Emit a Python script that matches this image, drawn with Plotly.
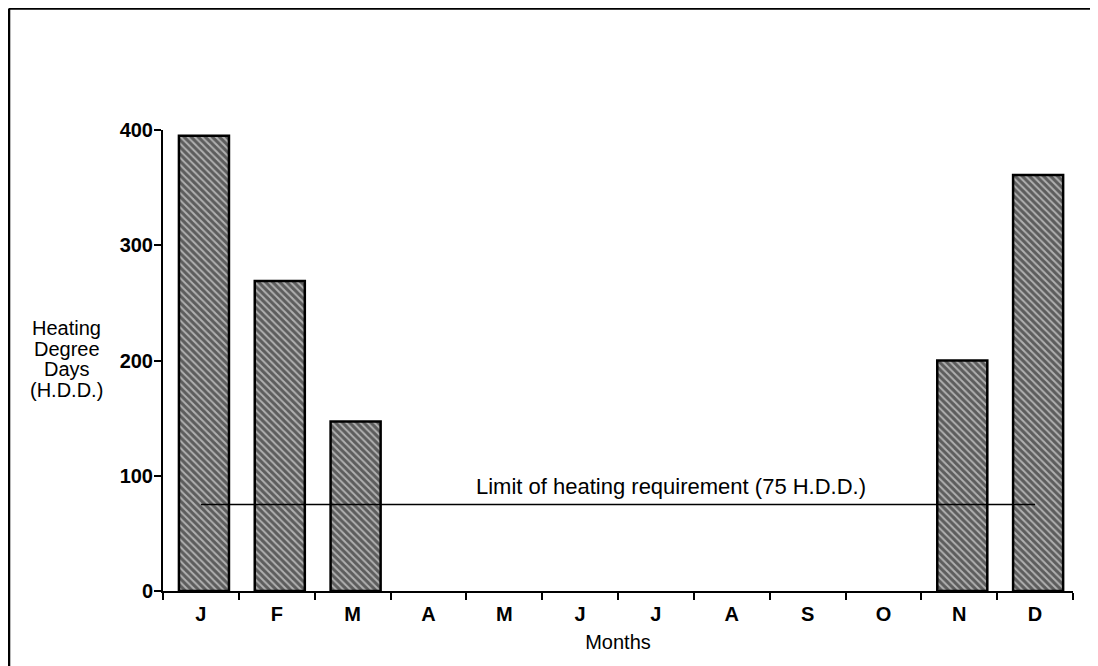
import plotly.graph_objects as go

# Monthly heating degree days
months = ["J", "F", "M", "A", "M", "J", "J", "A", "S", "O", "N", "D"]
hdd = [395, 269, 147, 0, 0, 0, 0, 0, 0, 0, 200, 361]
limit_hdd = 75
limit_label = "Limit of heating requirement (75 H.D.D.)"
y_title_lines = ["Heating", "Degree", "Days", "(H.D.D.)"]
y_ticks = [0, 100, 200, 300, 400]

month_idx = list(range(len(months)))
font = "Liberation Sans, Arial, sans-serif"

fig = go.Figure()

# empty months get no outline so nothing shows on the axis
outline = [2.5 if v > 0 else 0 for v in hdd]

fig.add_trace(
    go.Bar(
        x=month_idx,
        y=hdd,
        width=0.66,
        offset=-0.29,
        marker=dict(
            color="#b0b0b0",
            line=dict(color="black", width=outline),
            pattern=dict(shape="\\", fgcolor="#0a0a0a", size=5, solidity=0.6),
        ),
        showlegend=False,
    )
)

# limit line across the year
fig.add_trace(
    go.Scatter(
        x=[month_idx[0], month_idx[-1]],
        y=[limit_hdd, limit_hdd],
        mode="lines",
        line=dict(color="black", width=1.5),
        showlegend=False,
        hoverinfo="skip",
    )
)

fig.add_annotation(
    x=(month_idx[0] + month_idx[-1]) / 2 + 0.7,
    y=limit_hdd,
    text=limit_label,
    showarrow=False,
    yanchor="bottom",
    yshift=4,
    font=dict(family=font, size=22, color="black"),
)

# y axis title, one annotation per line to get the tight spacing
for i, line in enumerate(y_title_lines):
    fig.add_annotation(
        x=-0.1055,
        y=0.5705 - i * 0.0445,
        xref="paper",
        yref="paper",
        xanchor="center",
        text=line,
        showarrow=False,
        font=dict(family=font, size=20, color="black"),
    )

# frame of the scanned page (left and top edges)
fig.add_shape(type="line", xref="paper", yref="paper",
              x0=-0.1692, x1=-0.1692, y0=1.2636, y1=-0.17,
              line=dict(color="black", width=2.5))
fig.add_shape(type="line", xref="paper", yref="paper",
              x0=-0.1692, x1=1.03, y0=1.2636, y1=1.2636,
              line=dict(color="black", width=2.5))

fig.update_xaxes(
    range=[-0.5, len(months) - 0.5],
    tickvals=month_idx,
    ticktext=months,
    ticks="outside",
    ticklen=4,
    tickcolor="rgba(0,0,0,0)",
    ticklabelstandoff=0,
    tickfont=dict(family=font, size=20, color="black", weight="bold"),
    showline=True,
    linecolor="black",
    linewidth=2,
    showgrid=False,
    zeroline=False,
    minor=dict(
        tickvals=[i - 0.5 for i in range(len(months) + 1)],
        ticks="outside",
        ticklen=7,
        tickwidth=2,
        tickcolor="black",
        showgrid=False,
    ),
    title=dict(text="Months", font=dict(family=font, size=20, color="black"), standoff=11),
)

fig.update_yaxes(
    range=[0, 400],
    tickvals=y_ticks,
    ticks="outside",
    ticklen=7,
    tickwidth=2,
    tickcolor="black",
    ticklabelstandoff=-3,
    tickfont=dict(family=font, size=20, color="black", weight="bold"),
    showline=True,
    linecolor="black",
    linewidth=2,
    showgrid=False,
    zeroline=False,
)

fig.update_layout(
    width=1090,
    height=658,
    margin=dict(l=155, r=25, t=122, b=75),
    plot_bgcolor="white",
    paper_bgcolor="white",
)

fig.write_html("out.html")
